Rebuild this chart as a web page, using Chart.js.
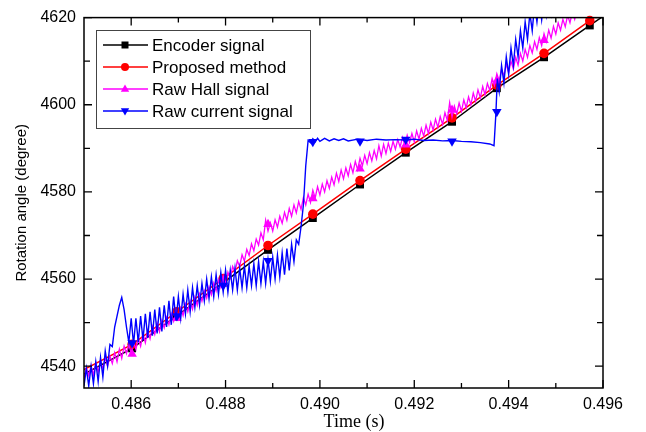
<!DOCTYPE html>
<html>
<head>
<meta charset="utf-8">
<script src="https://cdn.jsdelivr.net/npm/chart.js@4/dist/chart.umd.min.js"></script>
<style>
  body { margin: 0; background: #fff; }
  canvas { display: block; }
</style>
</head>
<body>
<canvas id="chart" width="646" height="432"></canvas>
<script>
// axis ticks
const xTickLabels = [0.486, 0.488, 0.490, 0.492, 0.494, 0.496];
const xMinorTicks = [0.487, 0.489, 0.491, 0.493, 0.495];
const yTickLabels = [4540, 4560, 4580, 4600, 4620];
const yMinorTicks = [4550, 4570, 4590, 4610];

// encoder + proposed method (line through the marker points)
const encT = [0.4850, 0.48602, 0.48697, 0.48795, 0.48890, 0.48985, 0.49085, 0.49182, 0.49280, 0.49375, 0.49475, 0.49572, 0.4961];
const encY = [4538.2, 4544.1, 4551.6, 4559.2, 4566.7, 4574.0, 4581.7, 4589.0, 4596.1, 4603.8, 4610.9, 4618.2, 4621.0];
const propY = [4539.2, 4545.0, 4552.5, 4560.1, 4567.7, 4574.9, 4582.6, 4589.8, 4597.0, 4604.5, 4611.8, 4619.3, 4622.1];

// symbol positions for the noisy signals
const markT = [0.48602, 0.48697, 0.48795, 0.48890, 0.48985, 0.49085, 0.49182, 0.49280, 0.49375, 0.49475, 0.49572];
const hallMarkY = [4542.8, 4551.0, 4559.0, 4572.6, 4578.5, 4585.3, 4590.8, 4598.8, 4605.5, 4614.8, null];
const curMarkY = [4545.3, 4551.5, 4558.5, 4564.2, 4591.5, 4591.6, 4592.0, 4591.6, 4598.4, null, null];

// raw Hall signal
const hallT = [
  0.48500, 0.48505, 0.48510, 0.48515, 0.48520, 0.48525, 0.48530, 0.48535, 0.48540, 0.48545,
  0.48550, 0.48555, 0.48560, 0.48565, 0.48570, 0.48575, 0.48580, 0.48585, 0.48590, 0.48595,
  0.48600, 0.48605, 0.48610, 0.48615, 0.48620, 0.48625, 0.48630, 0.48635, 0.48640, 0.48645,
  0.48650, 0.48655, 0.48660, 0.48665, 0.48670, 0.48675, 0.48680, 0.48685, 0.48690, 0.48695,
  0.48700, 0.48705, 0.48710, 0.48715, 0.48720, 0.48725, 0.48730, 0.48735, 0.48740, 0.48745,
  0.48750, 0.48755, 0.48760, 0.48765, 0.48770, 0.48775, 0.48780, 0.48785, 0.48790, 0.48795,
  0.48800, 0.48805, 0.48810, 0.48815, 0.48820, 0.48825, 0.48830, 0.48835, 0.48840, 0.48845,
  0.48850, 0.48855, 0.48860, 0.48865, 0.48870, 0.48875, 0.48880, 0.48885, 0.48890, 0.48895,
  0.48900, 0.48905, 0.48910, 0.48915, 0.48920, 0.48925, 0.48930, 0.48935, 0.48940, 0.48945,
  0.48950, 0.48955, 0.48960, 0.48965, 0.48970, 0.48975, 0.48980, 0.48985, 0.48990, 0.48995,
  0.49000, 0.49005, 0.49010, 0.49015, 0.49020, 0.49025, 0.49030, 0.49035, 0.49040, 0.49045,
  0.49050, 0.49055, 0.49060, 0.49065, 0.49070, 0.49075, 0.49080, 0.49085, 0.49090, 0.49095,
  0.49100, 0.49105, 0.49110, 0.49115, 0.49120, 0.49125, 0.49130, 0.49135, 0.49140, 0.49145,
  0.49150, 0.49155, 0.49160, 0.49165, 0.49170, 0.49175, 0.49180, 0.49185, 0.49190, 0.49195,
  0.49200, 0.49205, 0.49210, 0.49215, 0.49220, 0.49225, 0.49230, 0.49235, 0.49240, 0.49245,
  0.49250, 0.49255, 0.49260, 0.49265, 0.49270, 0.49275, 0.49280, 0.49285, 0.49290, 0.49295,
  0.49300, 0.49305, 0.49310, 0.49315, 0.49320, 0.49325, 0.49330, 0.49335, 0.49340, 0.49345,
  0.49350, 0.49355, 0.49360, 0.49365, 0.49370, 0.49375, 0.49380, 0.49385, 0.49390, 0.49395,
  0.49400, 0.49405, 0.49410, 0.49415, 0.49420, 0.49425, 0.49430, 0.49435, 0.49440, 0.49445,
  0.49450, 0.49455, 0.49460, 0.49465, 0.49470, 0.49475, 0.49480, 0.49485, 0.49490, 0.49495,
  0.49500, 0.49505, 0.49510, 0.49515, 0.49520, 0.49525, 0.49530, 0.49535, 0.49540, 0.49545,
  0.49550, 0.49555, 0.49560, 0.49570
];
const hallY = [
  4537.2, 4539.6, 4537.8, 4540.1, 4538.0, 4540.8, 4538.7, 4541.0, 4539.4, 4542.0,
  4540.0, 4542.3, 4540.6, 4543.1, 4541.0, 4543.9, 4541.8, 4544.6, 4542.9, 4545.0,
  4543.0, 4545.6, 4543.9, 4546.4, 4544.6, 4547.5, 4545.4, 4548.2, 4546.3, 4549.1,
  4547.3, 4549.9, 4547.9, 4550.5, 4548.8, 4551.2, 4549.5, 4552.0, 4550.3, 4552.8,
  4550.9, 4553.4, 4551.6, 4554.3, 4552.5, 4555.0, 4553.1, 4555.9, 4554.0, 4556.6,
  4554.9, 4557.3, 4555.6, 4558.2, 4556.4, 4559.1, 4557.3, 4559.8, 4558.1, 4560.7,
  4558.9, 4561.6, 4560.2, 4562.9, 4561.6, 4564.2, 4562.9, 4565.6, 4564.1, 4566.8,
  4565.4, 4568.1, 4566.5, 4569.2, 4567.8, 4570.6, 4569.0, 4573.5, 4571.0, 4572.9,
  4571.0, 4573.6, 4571.9, 4574.4, 4572.8, 4575.3, 4573.5, 4576.2, 4574.4, 4577.0,
  4575.2, 4577.8, 4576.0, 4578.7, 4577.0, 4579.5, 4577.6, 4580.4, 4578.6, 4581.2,
  4579.3, 4581.8, 4580.0, 4582.6, 4580.8, 4583.4, 4581.6, 4584.3, 4582.4, 4585.0,
  4583.0, 4585.5, 4583.7, 4586.3, 4584.4, 4587.0, 4585.1, 4587.7, 4586.0, 4588.4,
  4586.5, 4589.0, 4587.1, 4589.5, 4587.6, 4590.6, 4588.2, 4590.9, 4588.8, 4591.2,
  4589.3, 4591.6, 4589.8, 4592.0, 4590.3, 4592.5, 4590.7, 4593.0, 4591.3, 4593.4,
  4591.5, 4594.0, 4592.1, 4594.6, 4592.8, 4595.3, 4593.4, 4596.0, 4594.2, 4596.7,
  4594.8, 4597.3, 4595.5, 4598.2, 4596.4, 4600.5, 4597.2, 4599.7, 4597.9, 4600.4,
  4598.5, 4601.1, 4599.3, 4601.8, 4600.0, 4602.7, 4600.8, 4603.4, 4601.6, 4604.2,
  4602.3, 4604.9, 4603.3, 4606.0, 4604.4, 4607.1, 4605.5, 4608.2, 4606.6, 4609.3,
  4607.4, 4610.0, 4608.2, 4610.9, 4609.1, 4611.8, 4610.0, 4612.7, 4610.9, 4613.6,
  4611.9, 4614.5, 4612.7, 4615.4, 4613.6, 4616.3, 4614.5, 4617.1, 4615.3, 4618.0,
  4616.2, 4618.8, 4617.1, 4619.6, 4617.9, 4620.5, 4618.8, 4621.3, 4619.6, 4622.0,
  4620.5, 4622.8, 4621.4, 4623.5
];

// raw current signal
const curT = [
  0.48500, 0.48505, 0.48510, 0.48515, 0.48520, 0.48525, 0.48530, 0.48535, 0.48540, 0.48545,
  0.48550, 0.48555, 0.48560, 0.48565, 0.48570, 0.48575, 0.48580, 0.48585, 0.48590, 0.48595,
  0.48600, 0.48605, 0.48610, 0.48615, 0.48620, 0.48625, 0.48630, 0.48635, 0.48640, 0.48645,
  0.48650, 0.48655, 0.48660, 0.48665, 0.48670, 0.48675, 0.48680, 0.48685, 0.48690, 0.48695,
  0.48700, 0.48705, 0.48710, 0.48715, 0.48720, 0.48725, 0.48730, 0.48735, 0.48740, 0.48745,
  0.48750, 0.48755, 0.48760, 0.48765, 0.48770, 0.48775, 0.48780, 0.48785, 0.48790, 0.48795,
  0.48800, 0.48805, 0.48810, 0.48815, 0.48820, 0.48825, 0.48830, 0.48835, 0.48840, 0.48845,
  0.48850, 0.48855, 0.48860, 0.48865, 0.48870, 0.48875, 0.48880, 0.48885, 0.48890, 0.48895,
  0.48900, 0.48905, 0.48910, 0.48915, 0.48920, 0.48925, 0.48930, 0.48935, 0.48940, 0.48945,
  0.48950, 0.48955, 0.48960, 0.48965, 0.48970, 0.48975,
  0.48980, 0.48985, 0.48990, 0.48995, 0.49000, 0.49010, 0.49020, 0.49030, 0.49040, 0.49050,
  0.49060, 0.49080, 0.49100, 0.49120, 0.49140, 0.49160, 0.49180, 0.49200, 0.49220, 0.49240,
  0.49260, 0.49280, 0.49300, 0.49320, 0.49340, 0.49360, 0.49369, 0.49373, 0.49376,
  0.49380, 0.49385, 0.49390, 0.49395, 0.49400, 0.49405, 0.49410, 0.49415, 0.49420, 0.49425,
  0.49430, 0.49435, 0.49440, 0.49445, 0.49450, 0.49455, 0.49460, 0.49465, 0.49470, 0.49475,
  0.49480, 0.49485, 0.49490, 0.49495, 0.49500, 0.49510
];
const curY = [
  4535.5, 4539.5, 4535.5, 4540.0, 4536.0, 4541.0, 4536.5, 4542.0, 4537.5, 4543.5,
  4540.0, 4545.0, 4544.5, 4549.0, 4551.5, 4554.0, 4555.8, 4553.0, 4549.0, 4545.5,
  4551.0, 4545.0, 4551.0, 4545.5, 4551.5, 4546.0, 4552.0, 4546.5, 4552.5, 4547.0,
  4553.0, 4547.5, 4553.5, 4548.0, 4554.0, 4549.0, 4555.0, 4549.5, 4556.0, 4550.5,
  4556.0, 4551.0, 4556.5, 4552.0, 4557.5, 4552.5, 4558.0, 4553.5, 4558.5, 4554.0,
  4559.0, 4555.0, 4560.0, 4555.5, 4560.5, 4556.0, 4561.0, 4556.5, 4561.5, 4557.0,
  4562.0, 4557.0, 4562.0, 4557.5, 4562.5, 4557.5, 4562.5, 4558.0, 4563.0, 4558.0,
  4563.0, 4558.5, 4563.5, 4558.5, 4564.0, 4559.0, 4564.0, 4559.0, 4564.5, 4559.5,
  4565.0, 4560.0, 4565.5, 4560.5, 4566.0, 4561.0, 4567.0, 4562.0, 4568.0, 4564.0,
  4569.0, 4568.0, 4572.0, 4577.0, 4586.0, 4591.8,
  4591.3, 4592.2, 4591.5, 4592.3, 4591.6, 4592.3, 4591.7, 4592.2, 4591.8, 4592.2,
  4591.7, 4592.1, 4591.8, 4592.1, 4591.9, 4592.0, 4591.9, 4592.1, 4591.8, 4591.9,
  4591.7, 4591.8, 4591.6, 4591.5, 4591.3, 4591.0, 4590.6, 4598.0, 4606.0,
  4603.0, 4609.0, 4605.0, 4611.0, 4607.0, 4613.0, 4609.0, 4615.0, 4611.0, 4617.0,
  4613.0, 4619.0, 4615.0, 4621.0, 4617.0, 4623.0, 4619.0, 4624.0, 4619.5, 4624.0,
  4620.5, 4625.0, 4621.0, 4626.0, 4623.0, 4627.0
];

const pts = (t, v) => t.map((x, i) => ({ x: x, y: v[i] }));

const FONT = "'Liberation Sans', Arial, sans-serif";

const legendItems = [
  { text: 'Encoder signal', color: '#000000', shape: 'square' },
  { text: 'Proposed method', color: '#ff0000', shape: 'circle' },
  { text: 'Raw Hall signal', color: '#ff00ff', shape: 'up' },
  { text: 'Raw current signal', color: '#0000ff', shape: 'down' }
];

function drawShape(ctx, shape, x, y, r) {
  ctx.beginPath();
  if (shape === 'square') {
    ctx.rect(x - r, y - r, 2 * r, 2 * r);
  } else if (shape === 'circle') {
    ctx.arc(x, y, r, 0, Math.PI * 2);
  } else if (shape === 'up') {
    ctx.moveTo(x, y - r * 1.1);
    ctx.lineTo(x + r * 1.05, y + r * 0.7);
    ctx.lineTo(x - r * 1.05, y + r * 0.7);
    ctx.closePath();
  } else {
    ctx.moveTo(x, y + r * 1.1);
    ctx.lineTo(x + r * 1.05, y - r * 0.7);
    ctx.lineTo(x - r * 1.05, y - r * 0.7);
    ctx.closePath();
  }
  ctx.fill();
}

const framePlugin = {
  id: 'frame',
  afterDraw(chart) {
    const ctx = chart.ctx;
    const a = chart.chartArea;
    const x = chart.scales.x, y = chart.scales.y;
    ctx.save();
    ctx.strokeStyle = '#000';
    ctx.lineWidth = 1.5;
    ctx.strokeRect(a.left, a.top, a.right - a.left, a.bottom - a.top);

    // inward ticks on all four sides
    ctx.lineWidth = 1.3;
    ctx.beginPath();
    const xt = (v, len) => {
      const p = x.getPixelForValue(v);
      ctx.moveTo(p, a.bottom); ctx.lineTo(p, a.bottom - len);
      ctx.moveTo(p, a.top); ctx.lineTo(p, a.top + len);
    };
    const yt = (v, len) => {
      const p = y.getPixelForValue(v);
      ctx.moveTo(a.left, p); ctx.lineTo(a.left + len, p);
      ctx.moveTo(a.right, p); ctx.lineTo(a.right - len, p);
    };
    xTickLabels.forEach(v => xt(v, 8));
    xMinorTicks.forEach(v => xt(v, 5));
    yTickLabels.forEach(v => yt(v, 8));
    yMinorTicks.forEach(v => yt(v, 6));
    ctx.stroke();

    // axis titles
    ctx.fillStyle = '#000';
    ctx.textAlign = 'center';
    ctx.textBaseline = 'middle';
    ctx.font = "18px 'Liberation Serif', 'Times New Roman', serif";
    ctx.fillText('Time (s)', 354, 422);
    ctx.save();
    ctx.translate(22, (a.top + a.bottom) / 2);
    ctx.rotate(-Math.PI / 2);
    ctx.font = '15px ' + FONT;
    ctx.fillText('Rotation angle (degree)', 0, 0);
    ctx.restore();

    // legend
    ctx.fillStyle = '#fff';
    ctx.fillRect(96.5, 30.5, 214, 98);
    ctx.strokeStyle = '#444';
    ctx.lineWidth = 1;
    ctx.strokeRect(96.5, 30.5, 214, 98);
    ctx.font = '17px ' + FONT;
    ctx.textAlign = 'left';
    legendItems.forEach((it, i) => {
      const ry = 45 + i * 22;
      ctx.strokeStyle = it.color;
      ctx.fillStyle = it.color;
      ctx.lineWidth = 1.5;
      ctx.beginPath();
      ctx.moveTo(103, ry); ctx.lineTo(148, ry);
      ctx.stroke();
      drawShape(ctx, it.shape, 125, ry, it.shape === 'square' ? 3.5 : 4);
      ctx.fillStyle = '#000';
      ctx.fillText(it.text, 152, ry + 1);
    });
    ctx.restore();
  }
};

new Chart(document.getElementById('chart'), {
  type: 'line',
  data: {
    datasets: [
      { data: pts(markT, curMarkY), showLine: false, pointStyle: 'triangle', rotation: 180,
        pointRadius: 5.5, backgroundColor: '#0000ff', borderColor: '#0000ff', borderWidth: 0, order: 0, clip: false },
      { data: pts(curT, curY), borderColor: '#0000ff', borderWidth: 1.4, pointRadius: 0, order: 1 },
      { data: pts(markT, hallMarkY), showLine: false, pointStyle: 'triangle',
        pointRadius: 5.5, backgroundColor: '#ff00ff', borderColor: '#ff00ff', borderWidth: 0, order: 2, clip: false },
      { data: pts(hallT, hallY), borderColor: '#ff00ff', borderWidth: 1.3, pointRadius: 0, order: 3 },
      { data: pts(encT.slice(1, -1), propY.slice(1, -1)), showLine: false, pointStyle: 'circle',
        pointRadius: 4.8, backgroundColor: '#ff0000', borderColor: '#ff0000', borderWidth: 0, order: 4, clip: false },
      { data: pts(encT, propY), borderColor: '#ff0000', borderWidth: 1.5, pointRadius: 0, order: 5 },
      { data: pts(encT.slice(1, -1), encY.slice(1, -1)), showLine: false, pointStyle: 'rect',
        pointRadius: 5.6, backgroundColor: '#000000', borderColor: '#000000', borderWidth: 0, order: 6, clip: false },
      { data: pts(encT, encY), borderColor: '#000000', borderWidth: 1.5, pointRadius: 0, order: 7 }
    ]
  },
  options: {
    responsive: false,
    animation: false,
    layout: { padding: { left: 0, top: 15, right: 43, bottom: 0 } },
    plugins: { legend: { display: false }, tooltip: { enabled: false } },
    scales: {
      x: {
        type: 'linear',
        min: 0.485,
        max: 0.496,
        afterBuildTicks: s => { s.ticks = xTickLabels.map(v => ({ value: v })); },
        afterFit: s => { s.height = 44; },
        grid: { display: false, drawTicks: false },
        border: { display: false },
        ticks: {
          color: '#000', padding: 7, maxRotation: 0, autoSkip: false,
          font: { family: FONT, size: 16 },
          callback: v => Number(v).toFixed(3)
        }
      },
      y: {
        type: 'linear',
        min: 4535,
        max: 4620,
        afterBuildTicks: s => { s.ticks = yTickLabels.map(v => ({ value: v })); },
        afterFit: s => { s.width = 84; },
        grid: { display: false, drawTicks: false },
        border: { display: false },
        ticks: {
          color: '#000', padding: 8, autoSkip: false,
          font: { family: FONT, size: 16 },
          callback: v => String(v)
        }
      }
    }
  },
  plugins: [framePlugin]
});
</script>
</body>
</html>
